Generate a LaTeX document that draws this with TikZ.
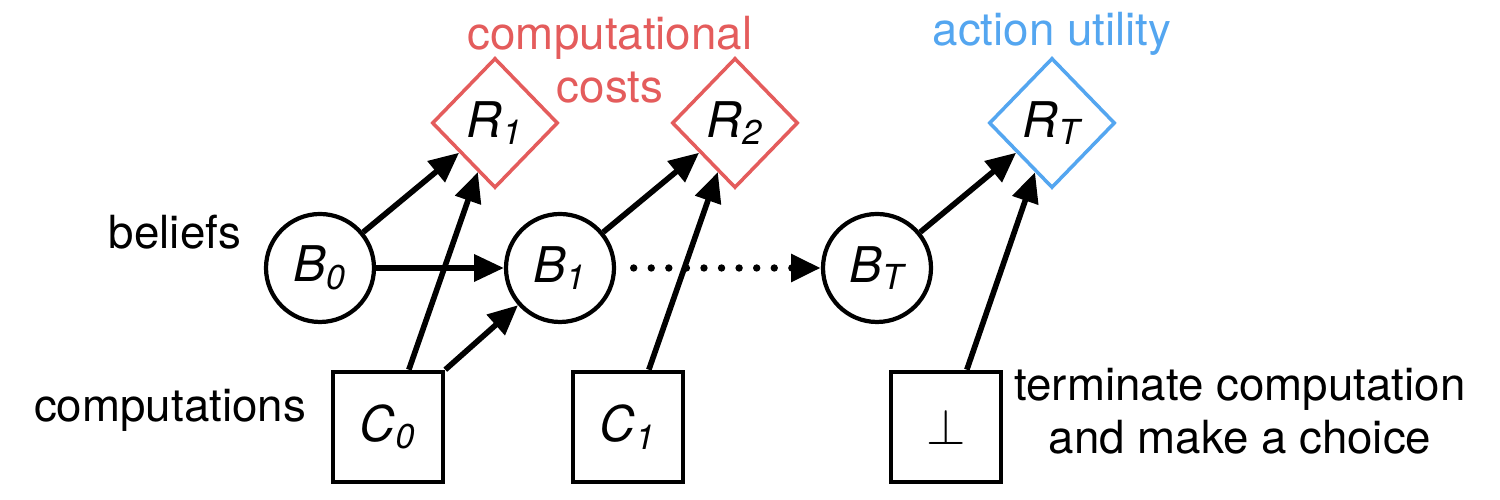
\documentclass[tikz,border=0pt]{standalone}
\usepackage{fontspec}
\setmainfont{TeX Gyre Heros}
\usetikzlibrary{shapes.geometric,arrows.meta}
\definecolor{costred}{RGB}{228,92,92}
\definecolor{utilblue}{RGB}{84,166,240}

\begin{document}
\begin{tikzpicture}[
        font=\fontsize{13}{15}\selectfont,
        belief/.style={draw,circle,line width=1.2pt,minimum size=1.08cm,inner sep=0pt,font=\fontsize{14}{16}\selectfont},
        reward/.style={draw,diamond,line width=1pt,minimum width=1.26cm,minimum height=1.3cm,inner sep=0pt,font=\fontsize{14}{16}\selectfont},
        comp/.style={draw,rectangle,line width=1.3pt,minimum size=1.1cm,inner sep=0pt,font=\fontsize{14}{16}\selectfont},
        edge/.style={-{Triangle[length=8.5pt,width=7.5pt]},line width=1.6pt},
        dots/.style={line cap=round,line width=2.1pt,dash pattern=on 0pt off 5pt,shorten <=5pt},
    ]
        \useasboundingbox (0,0) rectangle (15,5);
        % \draw[very thin,color=gray] (0,0) grid (15,5);

        % beliefs, rewards and computations
        \node[belief] (B0) at (3.20,2.32) {\textit{B\textsubscript{0}}};
        \node[belief] (B1) at (5.60,2.32) {\textit{B\textsubscript{1}}};
        \node[belief] (BT) at (8.77,2.32) {\textit{B\textsubscript{T}}};
        \node[reward,costred] (R1) at (4.95,3.77) {\textcolor{black}{\textit{R\textsubscript{1}}}};
        \node[reward,costred] (R2) at (7.35,3.77) {\textcolor{black}{\textit{R\textsubscript{2}}}};
        \node[reward,utilblue] (RT) at (10.52,3.77) {\textcolor{black}{\textit{R\textsubscript{T}}}};
        \node[comp] (C0) at (3.88,0.73) {\textit{C\textsubscript{0}}};
        \node[comp] (C1) at (6.28,0.73) {\textit{C\textsubscript{1}}};
        \node[comp] (stop) at (9.46,0.73) {$\perp$};

        % labels
        \node (beliefs) at (1.75,2.68) {beliefs};
        \node (comps) at (1.70,0.90) {computations};
        \node[text=costred,align=center] (costs) at (6.10,4.40) {computational\\costs};
        \node[text=utilblue] (utility) at (10.52,4.66) {action utility};
        \node[align=center] (term) at (12.40,0.89) {terminate computation\\and make a choice};

        \draw[edge] (B0) -- (R1);
        \draw[edge] (B0) -- (B1);
        \draw[edge] (C0.70) -- (R1);
        \draw[edge] (C0.north east) -- (B1);
        \draw[edge] (B1) -- (R2);
        \draw[edge] (C1.70) -- (R2);
        \draw[edge,dots] (B1) -- (BT);
        \draw[edge] (BT) -- (RT);
        \draw[edge] (stop.70) -- (RT);
    \end{tikzpicture}
\end{document}
